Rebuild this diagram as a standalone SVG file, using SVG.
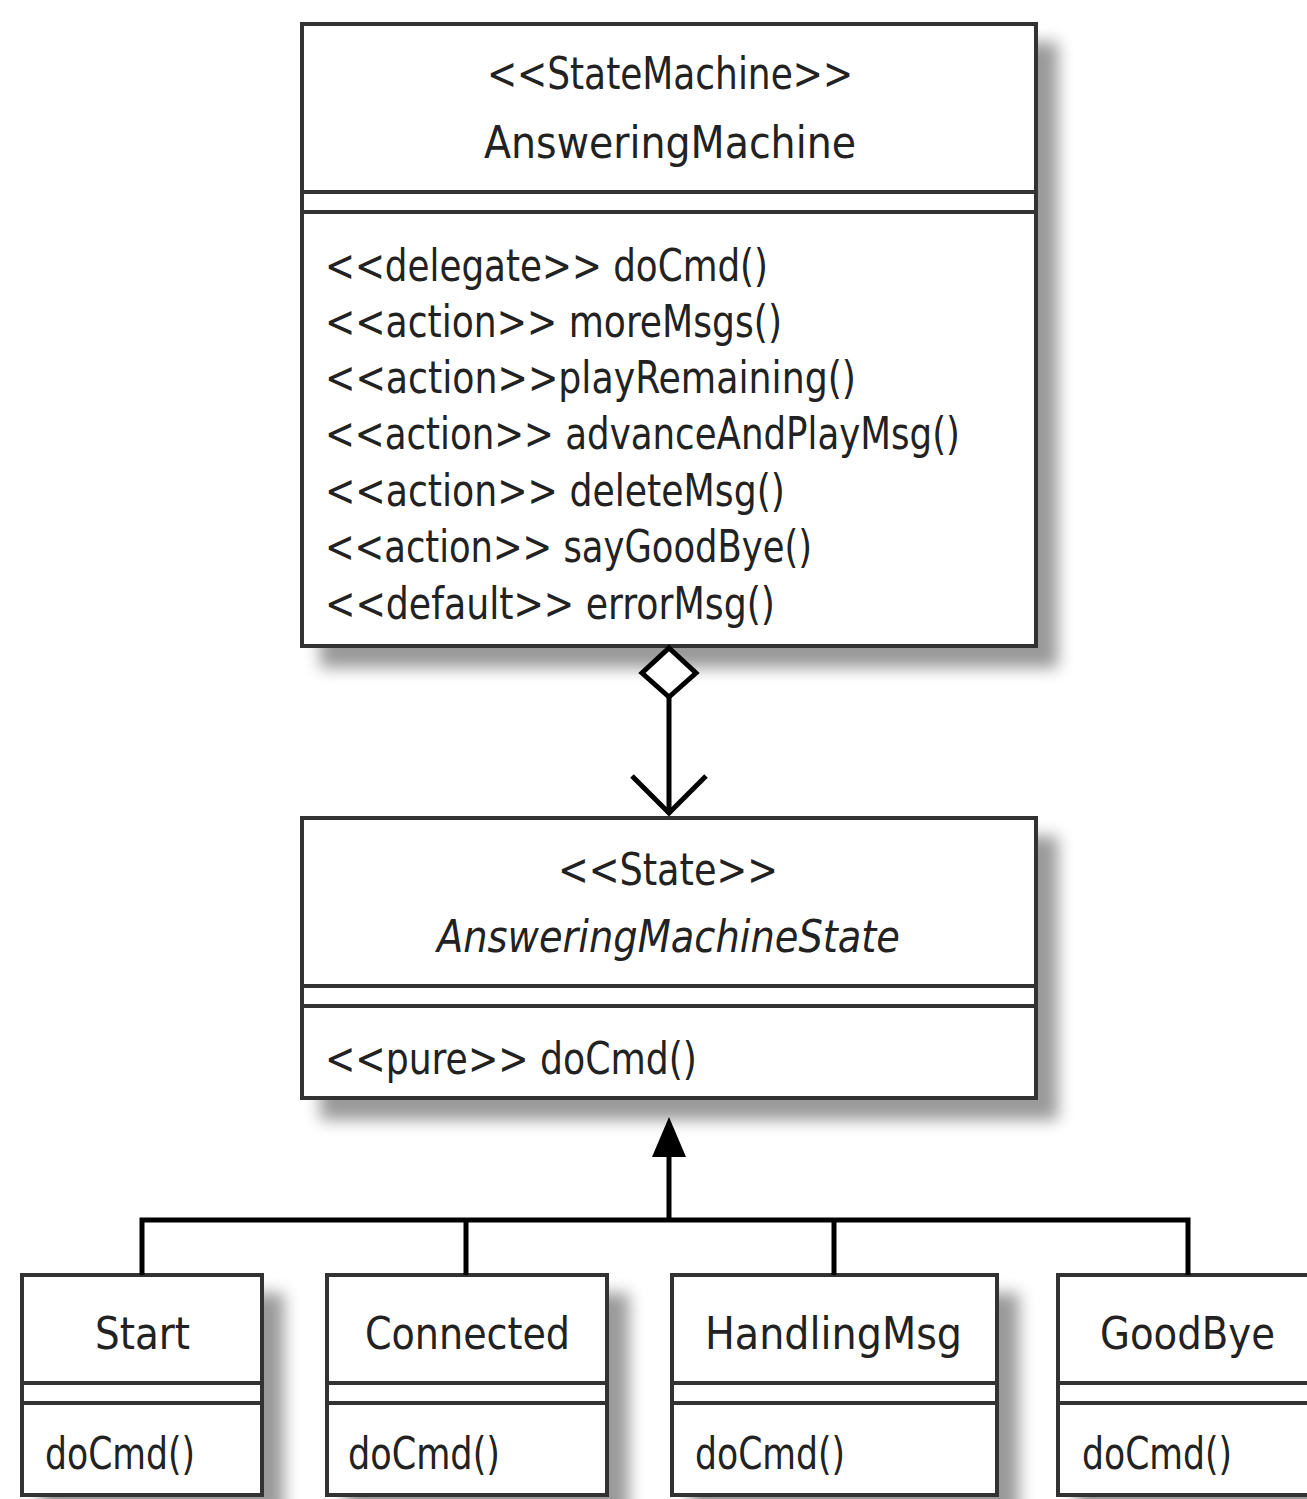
<svg xmlns="http://www.w3.org/2000/svg" width="1307" height="1499" viewBox="0 0 1307 1499">
<defs>
<filter id="sh" x="-10%" y="-10%" width="130%" height="130%">
<feGaussianBlur in="SourceAlpha" stdDeviation="8"/>
<feOffset dx="20" dy="20" result="b"/>
<feComponentTransfer><feFuncA type="linear" slope="0.4"/></feComponentTransfer>
<feMerge><feMergeNode/><feMergeNode in="SourceGraphic"/></feMerge>
</filter>
</defs>
<style>
.box{fill:#fff;stroke:#333;stroke-width:4}
.div{stroke:#333;stroke-width:4}
.t{font-family:"Liberation Sans Narrow","DejaVu Sans Condensed","Liberation Sans",sans-serif;font-size:45px;fill:#222}
.c{stroke:#000;stroke-width:5;fill:none}
</style>
<rect width="1307" height="1499" fill="#fff"/>
<g id="answeringMachine">
<rect class="box" x="302" y="24" width="734" height="622" filter="url(#sh)"/>
<line class="div" x1="302" y1="192" x2="1036" y2="192"/>
<line class="div" x1="302" y1="212" x2="1036" y2="212"/>
<text class="t" x="487" y="89" textLength="366" lengthAdjust="spacingAndGlyphs">&lt;&lt;StateMachine&gt;&gt;</text>
<text class="t" x="484" y="158" textLength="372" lengthAdjust="spacingAndGlyphs">AnsweringMachine</text>
<text class="t" x="325" y="281" textLength="443" lengthAdjust="spacingAndGlyphs">&lt;&lt;delegate&gt;&gt; doCmd()</text>
<text class="t" x="325" y="337" textLength="457" lengthAdjust="spacingAndGlyphs">&lt;&lt;action&gt;&gt; moreMsgs()</text>
<text class="t" x="325" y="393" textLength="531" lengthAdjust="spacingAndGlyphs">&lt;&lt;action&gt;&gt;playRemaining()</text>
<text class="t" x="325" y="449" textLength="635" lengthAdjust="spacingAndGlyphs">&lt;&lt;action&gt;&gt; advanceAndPlayMsg()</text>
<text class="t" x="325" y="506" textLength="460" lengthAdjust="spacingAndGlyphs">&lt;&lt;action&gt;&gt; deleteMsg()</text>
<text class="t" x="325" y="562" textLength="487" lengthAdjust="spacingAndGlyphs">&lt;&lt;action&gt;&gt; sayGoodBye()</text>
<text class="t" x="325" y="619" textLength="450" lengthAdjust="spacingAndGlyphs">&lt;&lt;default&gt;&gt; errorMsg()</text>
</g>
<g id="answeringMachineState">
<rect class="box" x="302" y="818" width="734" height="280" filter="url(#sh)"/>
<line class="div" x1="302" y1="986" x2="1036" y2="986"/>
<line class="div" x1="302" y1="1006" x2="1036" y2="1006"/>
<text class="t" x="558" y="885" textLength="220" lengthAdjust="spacingAndGlyphs">&lt;&lt;State&gt;&gt;</text>
<text class="t" x="437" y="952" font-style="italic" textLength="463" lengthAdjust="spacingAndGlyphs">AnsweringMachineState</text>
<text class="t" x="325" y="1074" textLength="372" lengthAdjust="spacingAndGlyphs">&lt;&lt;pure&gt;&gt; doCmd()</text>
</g>
<g id="start">
<rect class="box" x="22" y="1275" width="240" height="220" filter="url(#sh)"/>
<line class="div" x1="22" y1="1383" x2="262" y2="1383"/>
<line class="div" x1="22" y1="1403" x2="262" y2="1403"/>
<text class="t" x="95" y="1349" textLength="95" lengthAdjust="spacingAndGlyphs">Start</text>
<text class="t" x="45" y="1469" textLength="150" lengthAdjust="spacingAndGlyphs">doCmd()</text>
</g>
<g id="connected">
<rect class="box" x="327" y="1275" width="280" height="220" filter="url(#sh)"/>
<line class="div" x1="327" y1="1383" x2="607" y2="1383"/>
<line class="div" x1="327" y1="1403" x2="607" y2="1403"/>
<text class="t" x="365" y="1349" textLength="205" lengthAdjust="spacingAndGlyphs">Connected</text>
<text class="t" x="348" y="1469" textLength="152" lengthAdjust="spacingAndGlyphs">doCmd()</text>
</g>
<g id="handlingMsg">
<rect class="box" x="672" y="1275" width="325" height="220" filter="url(#sh)"/>
<line class="div" x1="672" y1="1383" x2="997" y2="1383"/>
<line class="div" x1="672" y1="1403" x2="997" y2="1403"/>
<text class="t" x="705" y="1349" textLength="257" lengthAdjust="spacingAndGlyphs">HandlingMsg</text>
<text class="t" x="695" y="1469" textLength="150" lengthAdjust="spacingAndGlyphs">doCmd()</text>
</g>
<g id="goodBye">
<rect class="box" x="1058" y="1275" width="260" height="220" filter="url(#sh)"/>
<line class="div" x1="1058" y1="1383" x2="1307" y2="1383"/>
<line class="div" x1="1058" y1="1403" x2="1307" y2="1403"/>
<text class="t" x="1100" y="1349" textLength="175" lengthAdjust="spacingAndGlyphs">GoodBye</text>
<text class="t" x="1082" y="1469" textLength="150" lengthAdjust="spacingAndGlyphs">doCmd()</text>
</g>
<g id="connectors">
<polygon points="669,648 696,673 669,697 642,673" fill="#fff" stroke="#000" stroke-width="5"/>
<line class="c" x1="669" y1="697" x2="669" y2="814"/>
<polyline class="c" points="632,776 669,813 706,776"/>
<polygon points="669,1117 686,1157 652,1157" fill="#000"/>
<line class="c" x1="669" y1="1155" x2="669" y2="1220"/>
<polyline class="c" points="142,1275 142,1220 1188,1220 1188,1275"/>
<line class="c" x1="466" y1="1220" x2="466" y2="1275"/>
<line class="c" x1="834" y1="1220" x2="834" y2="1275"/>
</g>
</svg>
